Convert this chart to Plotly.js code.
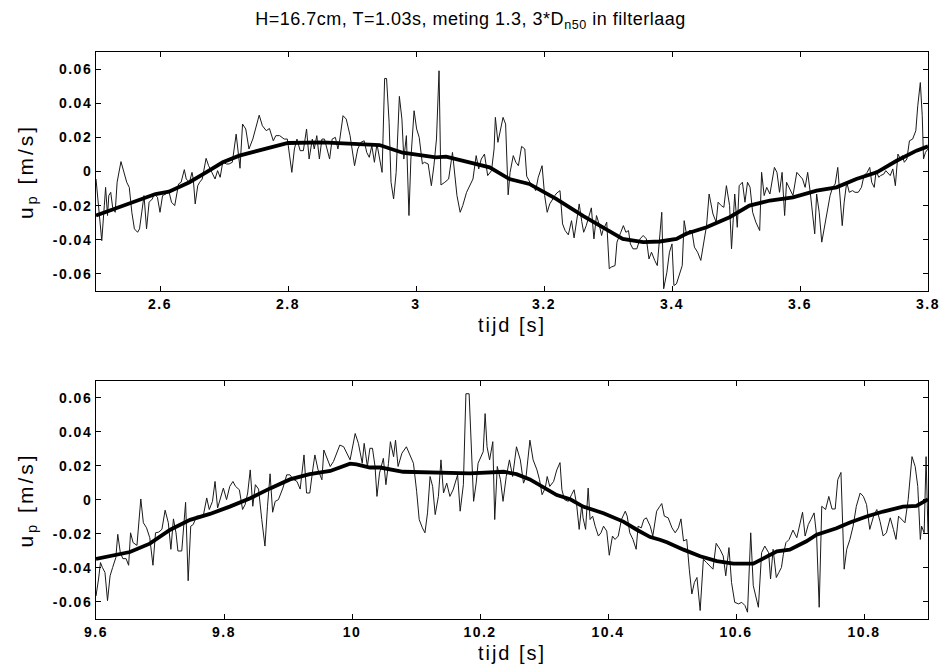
<!DOCTYPE html>
<html>
<head>
<meta charset="utf-8">
<script src="https://cdn.plot.ly/plotly-3.0.1.min.js"></script>
<style>
html, body { margin: 0; padding: 0; background: #fff; }
#chart { width: 941px; height: 671px; }
.gtitle { letter-spacing: 0.5px; }
.xtitle, .x2title { letter-spacing: 2px; }
.ytitle, .y2title { letter-spacing: 3px; }
.xtick text, .x2tick text, .ytick text, .y2tick text { letter-spacing: 1.5px; }
</style>
</head>
<body>
<div id="chart"></div>
<script>
// ---------- top panel: measured velocity (thin) ----------
const topT = [2.500,2.504,2.509,2.513,2.515,2.518,2.520,2.523,2.526,2.530,2.533,2.539,2.544,2.548,2.552,2.556,2.560,2.565,2.568,2.573,2.575,2.579,2.583,2.588,2.591,2.596,2.600,2.604,2.609,2.614,2.618,2.623,2.626,2.629,2.633,2.638,2.641,2.646,2.650,2.652,2.655,2.659,2.662,2.666,2.672,2.676,2.681,2.686,2.690,2.694,2.698,2.704,2.708,2.713,2.719,2.722,2.725,2.729,2.734,2.739,2.745,2.755,2.760,2.766,2.771,2.777,2.781,2.787,2.794,2.799,2.802,2.806,2.810,2.814,2.819,2.824,2.829,2.833,2.838,2.841,2.845,2.849,2.853,2.857,2.861,2.865,2.869,2.874,2.878,2.881,2.886,2.891,2.897,2.904,2.909,2.914,2.919,2.923,2.927,2.931,2.935,2.939,
2.947,2.951,2.954,2.958,2.961,2.965,2.969,2.974,2.978,2.981,2.985,2.989,2.992,2.997,3.001,3.005,3.010,3.013,3.019,3.024,3.028,3.032,3.036,3.039,3.045,3.051,3.057,3.060,3.064,3.069,3.073,3.079,3.084,3.089,3.094,3.098,3.102,3.107,3.112,3.118,3.122,3.124,3.128,3.132,3.136,3.140,3.144,3.147,3.152,3.156,3.160,3.165,3.170,3.173,3.178,3.183,3.187,3.191,3.194,3.197,3.201,3.205,3.209,3.213,3.217,3.220,3.225,3.229,3.233,3.238,3.243,3.247,3.251,3.255,3.259,3.262,3.266,3.271,3.274,3.278,3.282,3.286,3.290,3.292,3.298,3.302,3.305,3.311,3.314,3.320,3.324,3.328,3.332,3.335,3.339,3.345,3.350,3.355,3.360,3.364,3.368,3.373,3.377,
3.384,3.387,3.392,3.396,3.400,3.403,3.407,3.412,3.416,3.419,3.423,3.427,3.431,3.435,3.440,3.445,3.449,3.454,3.458,3.464,3.469,3.472,3.477,3.481,3.485,3.490,3.493,3.498,3.502,3.505,3.510,3.514,3.518,3.522,3.526,3.531,3.537,3.540,3.544,3.548,3.553,3.560,3.564,3.568,3.572,3.576,3.579,3.584,3.589,3.595,3.600,3.604,3.608,3.612,3.616,3.619,3.623,3.626,3.630,3.634,3.638,3.642,3.647,3.651,3.655,3.659,3.663,3.666,3.669,3.673,3.677,3.682,3.686,3.691,3.696,3.700,3.705,3.709,3.712,3.716,3.719,3.723,3.726,3.731,3.734,3.737,3.741,3.745,3.749,3.753,3.757,3.760,3.763,3.767,3.771,3.776,3.781,3.784,3.788,3.791,3.793,3.796,3.800];
const topRaw = [-0.0044,-0.0200,-0.0405,-0.0200,-0.0093,-0.0258,-0.0141,-0.0122,-0.0210,-0.0239,-0.0063,0.0058,-0.0005,-0.0063,-0.0093,-0.0239,-0.0336,-0.0356,-0.0336,-0.0180,-0.0141,-0.0336,-0.0180,-0.0161,-0.0132,-0.0151,-0.0239,-0.0141,-0.0132,-0.0118,-0.0180,-0.0200,-0.0122,-0.0073,-0.0063,0.0011,-0.0044,-0.0063,-0.0005,-0.0044,-0.0190,-0.0083,-0.0063,-0.0044,0.0077,0.0034,-0.0005,-0.0044,0.0005,-0.0034,0.0054,0.0044,0.0044,0.0054,0.0219,0.0132,0.0019,0.0278,0.0249,0.0132,0.0190,0.0330,0.0268,0.0239,0.0252,0.0180,0.0210,0.0210,0.0190,0.0190,0.0093,-0.0005,0.0132,0.0190,0.0122,0.0122,0.0249,0.0073,0.0190,0.0132,0.0210,0.0073,0.0190,0.0190,0.0132,0.0073,0.0190,0.0200,0.0132,0.0190,0.0327,0.0307,0.0210,0.0034,0.0132,0.0171,0.0180,0.0112,0.0083,0.0151,0.0054,0.0161,
-0.0005,0.0545,0.0545,0.0288,-0.0063,-0.0161,-0.0005,0.0440,0.0307,0.0073,0.0210,-0.0258,0.0073,0.0356,0.0249,0.0200,0.0044,0.0054,0.0044,-0.0083,0.0034,0.0190,0.0590,-0.0079,-0.0063,-0.0044,0.0112,0.0005,-0.0141,-0.0239,-0.0200,-0.0122,-0.0083,-0.0044,0.0093,0.0015,0.0073,0.0102,-0.0024,0.0005,0.0132,0.0317,0.0171,0.0249,0.0317,0.0278,-0.0137,-0.0005,0.0093,0.0054,0.0034,0.0147,0.0132,-0.0028,-0.0063,-0.0083,-0.0112,-0.0034,-0.0005,0.0034,-0.0141,-0.0239,-0.0190,-0.0161,-0.0141,-0.0126,-0.0112,-0.0307,-0.0346,-0.0371,-0.0288,-0.0389,-0.0278,-0.0190,-0.0293,-0.0356,-0.0317,-0.0249,-0.0213,-0.0395,-0.0258,-0.0307,-0.0375,-0.0346,-0.0297,-0.0570,-0.0560,-0.0551,-0.0414,-0.0356,-0.0317,-0.0356,-0.0346,-0.0424,-0.0453,-0.0453,-0.0395,-0.0375,-0.0395,-0.0512,-0.0473,-0.0521,-0.0551,
-0.0239,-0.0687,-0.0590,-0.0473,-0.0424,-0.0668,-0.0658,-0.0590,-0.0551,-0.0288,-0.0375,-0.0346,-0.0346,-0.0443,-0.0473,-0.0521,-0.0434,-0.0317,-0.0132,-0.0249,-0.0297,-0.0180,-0.0200,-0.0210,-0.0083,-0.0200,-0.0453,-0.0132,-0.0327,-0.0083,-0.0063,-0.0180,-0.0063,-0.0093,-0.0239,-0.0297,-0.0346,-0.0005,-0.0141,-0.0093,-0.0132,0.0024,-0.0005,-0.0122,-0.0005,-0.0258,-0.0063,-0.0102,-0.0141,-0.0005,-0.0024,-0.0044,-0.0093,-0.0005,-0.0122,-0.0239,-0.0365,-0.0132,-0.0239,-0.0414,-0.0336,-0.0258,-0.0141,-0.0093,-0.0073,0.0024,-0.0161,-0.0317,-0.0180,-0.0063,-0.0122,-0.0112,-0.0122,-0.0122,-0.0093,-0.0024,-0.0005,0.0024,-0.0063,-0.0093,0.0005,-0.0034,-0.0024,-0.0015,0.0005,-0.0005,-0.0024,0.0015,-0.0083,0.0102,0.0073,0.0093,0.0054,0.0073,0.0180,0.0190,0.0239,0.0385,0.0521,0.0327,0.0073,0.0112,0.0132];
// ---------- top panel: smoothed (thick) ----------
const topSmoothT = [2.500,2.552,2.593,2.614,2.646,2.672,2.698,2.724,2.755,2.800,2.854,2.906,2.943,2.979,3.031,3.047,3.083,3.115,3.146,3.177,3.219,3.261,3.292,3.323,3.355,3.381,3.407,3.422,3.454,3.490,3.521,3.553,3.589,3.626,3.657,3.688,3.720,3.751,3.782,3.800];
const topSmooth = [-0.0258,-0.0190,-0.0132,-0.0118,-0.0063,-0.0005,0.0054,0.0093,0.0122,0.0167,0.0170,0.0160,0.0155,0.0110,0.0083,0.0087,0.0054,0.0024,-0.0044,-0.0073,-0.0160,-0.0260,-0.0327,-0.0395,-0.0414,-0.0410,-0.0395,-0.0365,-0.0327,-0.0268,-0.0200,-0.0170,-0.0151,-0.0112,-0.0093,-0.0044,-0.0005,0.0063,0.0122,0.0147];

// ---------- bottom panel: measured velocity (thin) ----------
const botT = [9.596,9.600,9.604,9.607,9.610,9.614,9.618,9.622,9.626,9.631,9.634,9.638,9.642,9.647,9.651,9.654,9.658,9.664,9.670,9.674,9.679,9.684,9.689,9.693,9.698,9.703,9.708,9.713,9.717,9.721,9.725,9.728,9.734,9.740,9.744,9.748,9.752,9.757,9.763,9.768,9.773,9.777,9.782,9.786,9.790,9.794,9.799,9.804,9.809,9.814,9.818,9.824,9.829,9.833,9.837,9.841,9.845,9.849,9.854,9.859,9.864,9.868,9.872,9.876,9.880,9.885,9.892,9.898,9.903,9.908,9.914,9.919,9.925,9.929,9.934,9.939,9.942,9.947,9.953,9.956,9.962,9.966,9.971,9.976,9.981,9.987,9.992,9.997,10.005,10.010,10.016,10.019,10.024,10.028,10.032,10.036,10.039,10.043,
10.049,10.053,10.057,10.060,10.065,10.068,10.072,10.078,10.085,10.091,10.096,10.101,10.105,10.110,10.114,10.118,10.122,10.126,10.130,10.135,10.139,10.143,10.148,10.153,10.158,10.165,10.169,10.174,10.178,10.183,10.186,10.190,10.194,10.197,10.205,10.208,10.211,10.215,10.220,10.223,10.227,10.232,10.236,10.241,10.246,10.251,10.257,10.263,10.268,10.272,10.278,10.283,10.289,10.293,10.297,10.302,10.305,10.309,10.315,10.320,10.325,10.328,10.332,10.338,10.343,10.347,10.351,10.355,10.359,10.361,10.365,10.369,10.372,10.376,10.380,10.385,10.389,10.393,10.398,10.402,10.407,10.411,10.416,10.421,10.427,10.430,10.434,10.439,10.444,10.447,10.452,10.456,10.460,10.466,10.470,10.476,10.481,
10.484,10.488,10.494,10.500,10.505,10.510,10.514,10.518,10.523,10.527,10.531,10.535,10.539,10.544,10.549,10.554,10.559,10.564,10.569,10.575,10.580,10.584,10.589,10.593,10.598,10.604,10.609,10.614,10.618,10.623,10.627,10.631,10.635,10.640,10.645,10.651,10.654,10.658,10.663,10.667,10.671,10.674,10.678,10.683,10.689,10.695,10.699,10.704,10.708,10.713,10.717,10.722,10.726,10.730,10.734,10.740,10.745,10.750,10.755,10.759,10.764,10.769,10.773,10.778,10.783,10.788,10.794,10.799,10.804,10.809,10.815,10.820,10.825,10.830,10.835,10.841,10.846,10.850,10.854,10.859,10.864,10.869,10.875,10.880,10.884,10.888,10.890,10.894,10.897,10.900];
const botRaw = [-0.0456,-0.0563,-0.0465,-0.0368,-0.0397,-0.0426,-0.0592,-0.0446,-0.0397,-0.0339,-0.0202,-0.0310,-0.0345,-0.0345,-0.0384,-0.0193,-0.0251,-0.0267,0.0006,-0.0134,-0.0164,-0.0222,-0.0384,-0.0193,-0.0189,-0.0173,-0.0060,-0.0134,-0.0290,-0.0111,-0.0193,-0.0300,-0.0300,-0.0014,-0.0475,-0.0154,-0.0144,-0.0095,-0.0095,-0.0086,0.0012,-0.0056,-0.0008,0.0109,-0.0047,0.0002,0.0070,0.0002,0.0080,0.0109,0.0080,0.0060,-0.0056,-0.0027,0.0041,0.0177,-0.0037,0.0090,0.0064,-0.0115,-0.0271,-0.0037,0.0154,-0.0072,-0.0008,0.0002,0.0070,0.0148,0.0148,0.0123,0.0109,0.0064,0.0265,0.0041,0.0041,0.0187,0.0265,0.0177,0.0119,0.0294,0.0236,0.0197,0.0226,0.0275,0.0323,0.0313,0.0275,0.0236,0.0391,0.0333,0.0216,0.0333,0.0197,0.0304,0.0304,0.0197,0.0021,0.0158,
0.0245,0.0090,0.0216,0.0343,0.0255,0.0352,0.0197,0.0275,0.0313,0.0265,0.0216,0.0051,-0.0115,-0.0164,-0.0193,-0.0076,0.0138,0.0080,-0.0086,0.0021,0.0236,0.0041,0.0099,0.0021,0.0060,0.0148,-0.0066,0.0090,0.0625,0.0625,0.0304,-0.0008,0.0099,0.0216,0.0284,0.0508,0.0313,0.0236,0.0343,-0.0115,0.0197,0.0119,-0.0008,0.0138,0.0236,0.0138,0.0313,0.0236,0.0099,0.0138,0.0352,0.0236,0.0177,0.0119,0.0031,0.0070,0.0138,0.0080,0.0109,0.0177,0.0220,0.0060,0.0002,-0.0008,0.0031,0.0060,-0.0027,-0.0173,-0.0027,-0.0105,-0.0173,0.0070,-0.0115,-0.0095,-0.0154,-0.0212,-0.0193,-0.0154,-0.0183,-0.0325,-0.0212,-0.0232,-0.0212,-0.0115,-0.0066,-0.0095,-0.0193,-0.0232,-0.0290,-0.0154,-0.0164,-0.0115,-0.0105,-0.0154,-0.0212,-0.0066,-0.0037,
-0.0021,-0.0095,-0.0105,-0.0164,-0.0193,-0.0164,-0.0111,-0.0241,-0.0232,-0.0407,-0.0553,-0.0485,-0.0456,-0.0650,-0.0349,-0.0368,-0.0388,-0.0407,-0.0255,-0.0290,-0.0329,-0.0446,-0.0280,-0.0485,-0.0602,-0.0611,-0.0602,-0.0621,-0.0660,-0.0193,-0.0504,-0.0563,-0.0631,-0.0310,-0.0271,-0.0310,-0.0465,-0.0290,-0.0456,-0.0426,-0.0397,-0.0319,-0.0251,-0.0232,-0.0177,-0.0222,-0.0154,-0.0072,-0.0212,-0.0144,-0.0115,-0.0076,-0.0212,-0.0631,-0.0037,-0.0056,0.0021,-0.0053,-0.0053,0.0119,0.0162,-0.0407,-0.0290,-0.0232,-0.0154,-0.0037,0.0041,0.0021,-0.0027,-0.0173,-0.0095,-0.0056,-0.0125,-0.0212,-0.0193,-0.0105,-0.0173,-0.0232,-0.0095,-0.0115,-0.0134,0.0002,0.0255,0.0197,0.0080,-0.0232,-0.0154,-0.0193,0.0255,-0.0193];
// ---------- bottom panel: smoothed (thick) ----------
const botSmoothT = [9.600,9.622,9.653,9.684,9.716,9.747,9.778,9.809,9.841,9.872,9.903,9.934,9.966,9.997,10.007,10.028,10.044,10.080,10.132,10.184,10.237,10.257,10.278,10.299,10.320,10.341,10.361,10.393,10.424,10.445,10.466,10.481,10.492,10.518,10.544,10.570,10.596,10.627,10.648,10.664,10.684,10.710,10.726,10.757,10.778,10.804,10.830,10.861,10.882,10.900];
const botSmooth = [-0.0347,-0.0331,-0.0306,-0.0257,-0.0175,-0.0117,-0.0082,-0.0039,0.0010,0.0068,0.0121,0.0152,0.0171,0.0214,0.0210,0.0191,0.0191,0.0166,0.0160,0.0156,0.0166,0.0152,0.0121,0.0078,0.0029,0.0004,-0.0039,-0.0078,-0.0127,-0.0175,-0.0218,-0.0234,-0.0249,-0.0292,-0.0331,-0.0360,-0.0374,-0.0374,-0.0335,-0.0302,-0.0292,-0.0243,-0.0204,-0.0166,-0.0132,-0.0097,-0.0068,-0.0039,-0.0035,0.0004];

// ---------- ticks ----------
const yTickVals = [-0.06,-0.04,-0.02,0,0.02,0.04,0.06];
const yTickText = ['-0.06','-0.04','-0.02','0','0.02','0.04','0.06'];
const topXTickVals = [2.6,2.8,3.0,3.2,3.4,3.6,3.8];
const topXTickText = ['2.6','2.8','3','3.2','3.4','3.6','3.8'];
const botXTickVals = [9.6,9.8,10.0,10.2,10.4,10.6,10.8];
const botXTickText = ['9.6','9.8','10','10.2','10.4','10.6','10.8'];

const FONT = 'Liberation Sans, Arial, sans-serif';
const thin = {color: '#1a1a1a', width: 1};
const thick = {color: '#000', width: 3.8};

const traces = [
  {x: topT, y: topRaw, xaxis: 'x', yaxis: 'y', mode: 'lines', line: thin, hoverinfo: 'skip'},
  {x: topSmoothT, y: topSmooth, xaxis: 'x', yaxis: 'y', mode: 'lines', line: thick},
  {x: botT, y: botRaw, xaxis: 'x2', yaxis: 'y2', mode: 'lines', line: thin, hoverinfo: 'skip'},
  {x: botSmoothT, y: botSmooth, xaxis: 'x2', yaxis: 'y2', mode: 'lines', line: thick}
];

function xAxis(range, vals, text, anchor) {
  return {
    range: range, anchor: anchor, tickmode: 'array', tickvals: vals, ticktext: text,
    ticks: 'inside', ticklen: 5, tickwidth: 1, tickcolor: '#000',
    showline: true, linecolor: '#000', linewidth: 1, mirror: 'ticks',
    showgrid: false, zeroline: false,
    tickfont: {family: FONT, size: 14, color: '#000', weight: 'bold'},
    title: {text: 'tijd [s]', font: {family: FONT, size: 20, color: '#000'}, standoff: 7}
  };
}
function yAxis(domain, anchor) {
  return {
    domain: domain, anchor: anchor, range: [-0.07, 0.07],
    tickmode: 'array', tickvals: yTickVals, ticktext: yTickText,
    ticks: 'inside', ticklen: 5, tickwidth: 1, tickcolor: '#000',
    showline: true, linecolor: '#000', linewidth: 1, mirror: 'ticks',
    showgrid: false, zeroline: false,
    tickfont: {family: FONT, size: 14, color: '#000', weight: 'bold'},
    title: {text: 'u<sub>p</sub> [m/s]', font: {family: FONT, size: 21, color: '#000'}, standoff: 13}
  };
}

const layout = {
  width: 941, height: 671,
  paper_bgcolor: '#fff', plot_bgcolor: '#fff',
  margin: {l: 96, r: 13, t: 52, b: 52},
  showlegend: false,
  title: {
    text: 'H=16.7cm, T=1.03s, meting 1.3, 3*D<sub>n50</sub> in filterlaag',
    font: {family: FONT, size: 18, color: '#000'},
    x: 0.5, xref: 'container', y: 0.972, yref: 'container', yanchor: 'middle'
  },
  xaxis: xAxis([2.5, 3.8], topXTickVals, topXTickText, 'y'),
  yaxis: yAxis([0.5785, 1], 'x'),
  xaxis2: xAxis([9.6, 10.9], botXTickVals, botXTickText, 'y2'),
  yaxis2: yAxis([0, 0.4198], 'x2')
};

Plotly.newPlot('chart', traces, layout, {displayModeBar: false, staticPlot: true});
</script>
</body>
</html>
